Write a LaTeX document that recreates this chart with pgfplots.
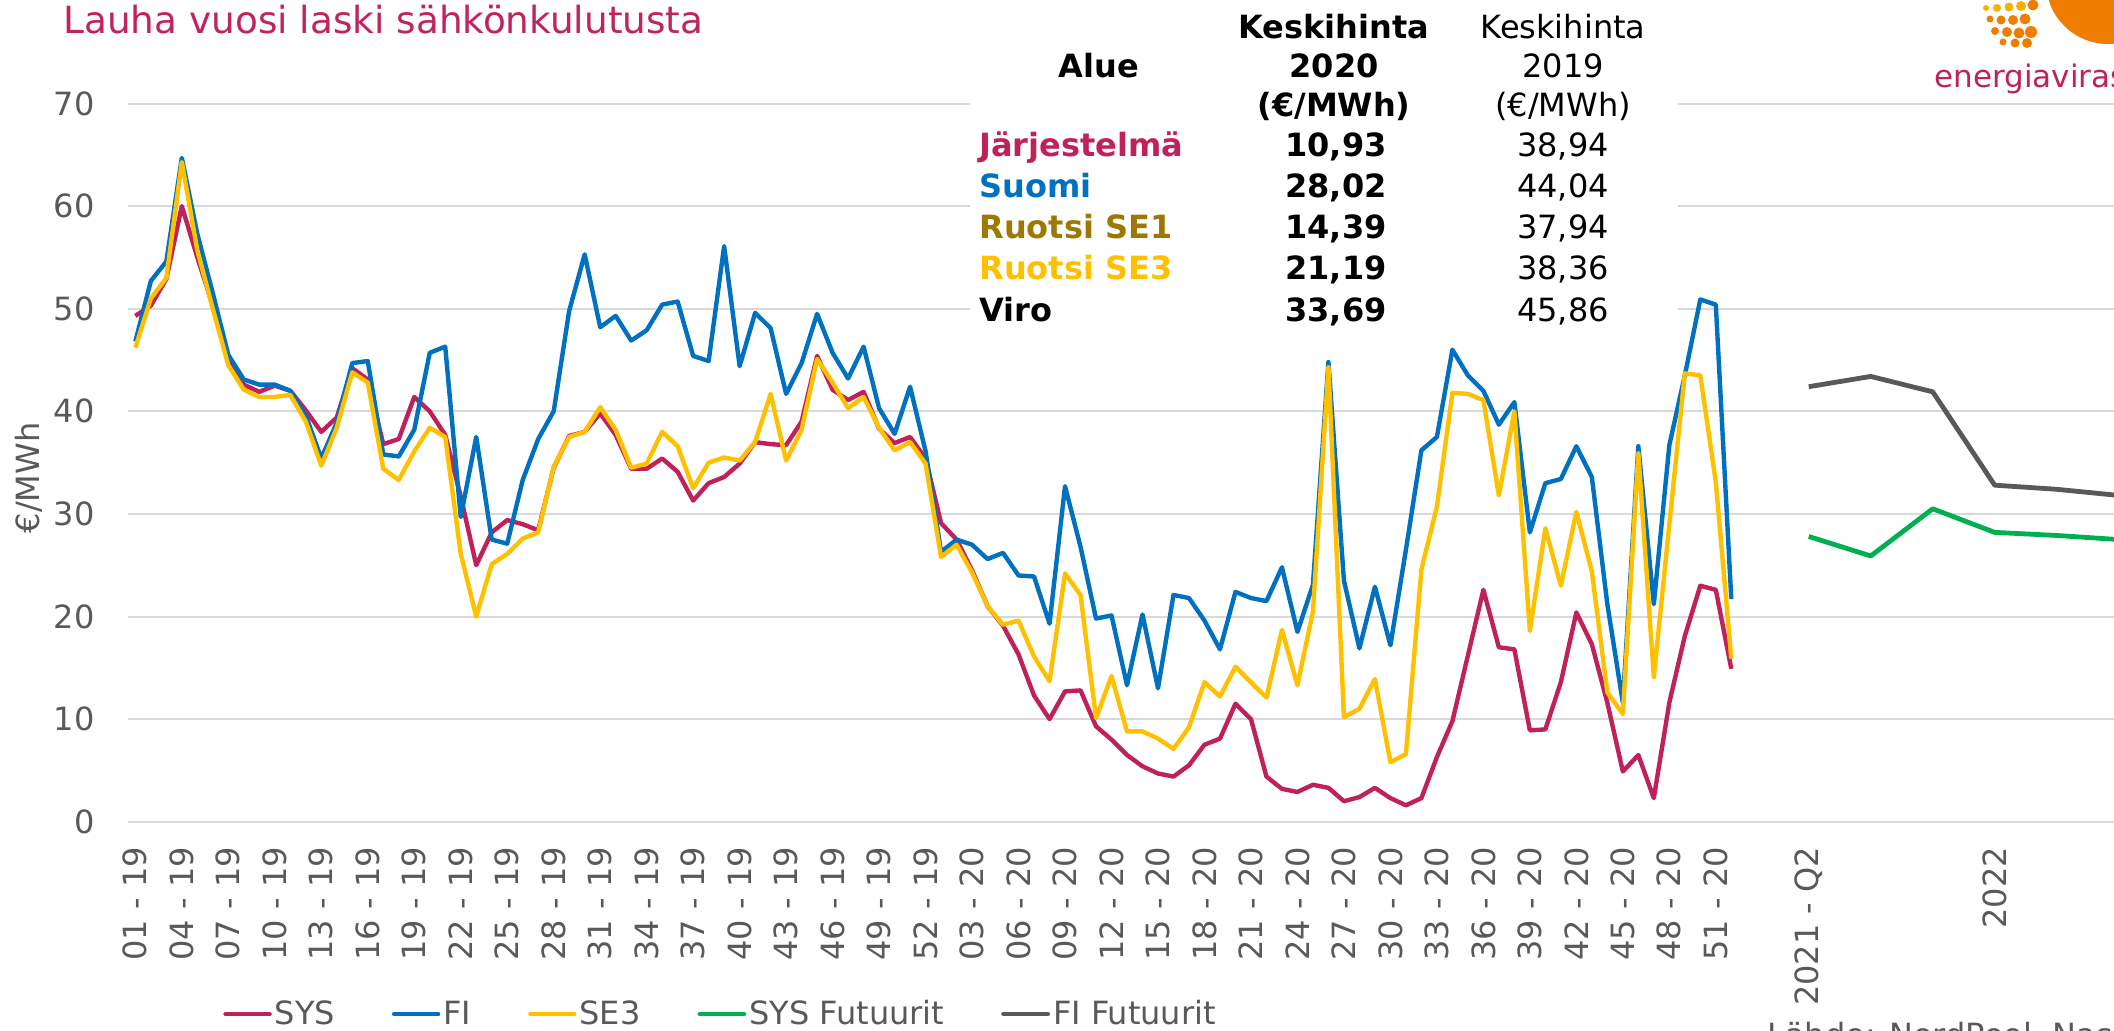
\documentclass[border=0pt]{standalone}
\usepackage{fontspec}
\setmainfont{DejaVu Sans}
\usepackage{pgfplots}
\pgfplotsset{compat=1.18}
\definecolor{sys}{RGB}{193,33,91}
\definecolor{fi}{RGB}{0,112,192}
\definecolor{se3}{RGB}{255,192,0}
\definecolor{se1}{RGB}{158,120,0}
\definecolor{sysf}{RGB}{0,176,80}
\definecolor{fif}{RGB}{89,89,89}
\definecolor{txtgray}{RGB}{89,89,89}
\definecolor{gridgray}{RGB}{217,217,217}
\definecolor{titlec}{RGB}{192,36,92}
\definecolor{logoor}{RGB}{238,125,0}
\definecolor{logoye}{RGB}{248,176,0}
\definecolor{logored}{RGB}{226,80,30}
\newcommand{\fs}{\fontsize{16}{19}\selectfont}
\begin{document}
\begin{tikzpicture}
\clip (0,0) rectangle (1057pt,515pt);
\fill[white] (0,0) rectangle (1057pt,515pt);
\begin{axis}[
  at={(63.8pt,104.15pt)}, anchor=south west,
  scale only axis, width=993.2pt, height=359.1pt,
  xmin=-0.5, xmax=127.7, ymin=0, ymax=70,
  ytick={0,10,...,70},
  xtick={0,3,...,102,108,120},
  xticklabels={01 - 19,04 - 19,07 - 19,10 - 19,13 - 19,16 - 19,19 - 19,22 - 19,25 - 19,28 - 19,31 - 19,34 - 19,37 - 19,40 - 19,43 - 19,46 - 19,49 - 19,52 - 19,03 - 20,06 - 20,09 - 20,12 - 20,15 - 20,18 - 20,21 - 20,24 - 20,27 - 20,30 - 20,33 - 20,36 - 20,39 - 20,42 - 20,45 - 20,48 - 20,51 - 20,2021 - Q2,2022},
  axis line style={draw=none},
  major tick length=0pt,
  ymajorgrids, grid style={gridgray, line width=1pt},
  tick label style={font=\fs, text=txtgray},
  /pgf/number format/assume math mode=true,
  yticklabel style={anchor=east, inner sep=0pt},
  yticklabel shift=16.3pt,
  xticklabel style={rotate=90, anchor=east, inner sep=0pt},
  xticklabel shift=12.5pt,
  ylabel={€/MWh},
  every axis y label/.style={at={(axis description cs:-0.0496,0.4786)}, rotate=90, anchor=center, font=\fs, text=txtgray},
  legend style={at={(axis description cs:0.048,-0.2678)}, anchor=west, draw=none, fill=none, font=\fs, text=txtgray, legend columns=5, inner sep=0pt, nodes={inner sep=1.5pt}, /tikz/every even column/.append style={column sep=27pt}},
  legend image code/.code={\draw[#1, line cap=round] (1pt,0pt) -- (23pt,0pt);},
  clip=true,
]
\addplot[sys, line width=2.2pt, line join=round] coordinates {(0,49.3)(1,50.3)(2,52.9)(3,60.0)(4,55.0)(5,50.3)(6,44.9)(7,42.6)(8,41.9)(9,42.5)(10,42.0)(11,40.1)(12,38.0)(13,39.4)(14,44.2)(15,43.1)(16,36.8)(17,37.3)(18,41.4)(19,40.0)(20,37.7)(21,31.7)(22,25.0)(23,28.2)(24,29.4)(25,29.0)(26,28.4)(27,34.5)(28,37.6)(29,38.0)(30,39.8)(31,37.7)(32,34.4)(33,34.4)(34,35.4)(35,34.1)(36,31.3)(37,33.0)(38,33.6)(39,34.9)(40,37.0)(41,36.8)(42,36.7)(43,39.0)(44,45.4)(45,42.1)(46,41.1)(47,41.9)(48,38.3)(49,36.9)(50,37.5)(51,35.4)(52,29.1)(53,27.5)(54,24.5)(55,21.0)(56,19.1)(57,16.3)(58,12.3)(59,10.0)(60,12.7)(61,12.8)(62,9.3)(63,8.0)(64,6.5)(65,5.4)(66,4.7)(67,4.4)(68,5.5)(69,7.5)(70,8.1)(71,11.5)(72,10.0)(73,4.4)(74,3.2)(75,2.9)(76,3.6)(77,3.3)(78,2.0)(79,2.4)(80,3.3)(81,2.3)(82,1.6)(83,2.3)(84,6.3)(85,9.8)(86,16.2)(87,22.6)(88,17.0)(89,16.8)(90,8.9)(91,9.0)(92,13.6)(93,20.4)(94,17.3)(95,11.6)(96,4.9)(97,6.5)(98,2.3)(99,11.6)(100,18.1)(101,23.0)(102,22.6)(103,14.9)};
\addlegendentry{SYS}
\addplot[fi, line width=2.2pt, line join=round] coordinates {(0,46.8)(1,52.7)(2,54.6)(3,64.7)(4,57.3)(5,51.5)(6,45.5)(7,43.1)(8,42.6)(9,42.6)(10,42.0)(11,39.6)(12,35.4)(13,38.9)(14,44.7)(15,44.9)(16,35.8)(17,35.6)(18,38.2)(19,45.7)(20,46.3)(21,29.7)(22,37.5)(23,27.5)(24,27.1)(25,33.3)(26,37.3)(27,40.0)(28,49.8)(29,55.3)(30,48.2)(31,49.3)(32,46.9)(33,47.9)(34,50.4)(35,50.7)(36,45.4)(37,44.9)(38,56.1)(39,44.4)(40,49.6)(41,48.1)(42,41.7)(43,44.7)(44,49.5)(45,45.7)(46,43.2)(47,46.3)(48,40.3)(49,37.8)(50,42.4)(51,36.1)(52,26.3)(53,27.5)(54,27.0)(55,25.6)(56,26.2)(57,24.0)(58,23.9)(59,19.3)(60,32.7)(61,26.8)(62,19.8)(63,20.1)(64,13.3)(65,20.2)(66,13.0)(67,22.1)(68,21.8)(69,19.6)(70,16.8)(71,22.4)(72,21.8)(73,21.5)(74,24.8)(75,18.5)(76,23.1)(77,44.8)(78,23.5)(79,16.9)(80,22.9)(81,17.2)(82,26.5)(83,36.2)(84,37.5)(85,46.0)(86,43.5)(87,42.0)(88,38.7)(89,40.9)(90,28.2)(91,33.0)(92,33.4)(93,36.6)(94,33.6)(95,21.2)(96,11.6)(97,36.6)(98,21.2)(99,36.7)(100,43.5)(101,50.9)(102,50.4)(103,21.7)};
\addlegendentry{FI}
\addplot[se3, line width=2.2pt, line join=round] coordinates {(0,46.2)(1,51.0)(2,53.0)(3,64.3)(4,55.7)(5,50.0)(6,44.5)(7,42.1)(8,41.4)(9,41.4)(10,41.6)(11,39.0)(12,34.7)(13,38.4)(14,43.8)(15,42.8)(16,34.4)(17,33.3)(18,36.1)(19,38.4)(20,37.5)(21,26.1)(22,20.0)(23,25.1)(24,26.1)(25,27.6)(26,28.2)(27,34.6)(28,37.5)(29,38.0)(30,40.4)(31,38.2)(32,34.5)(33,34.9)(34,38.0)(35,36.6)(36,32.5)(37,35.0)(38,35.5)(39,35.2)(40,37.0)(41,41.7)(42,35.2)(43,38.2)(44,45.1)(45,42.8)(46,40.3)(47,41.4)(48,38.4)(49,36.2)(50,37.0)(51,34.9)(52,25.8)(53,27.0)(54,24.3)(55,21.0)(56,19.2)(57,19.6)(58,16.1)(59,13.7)(60,24.2)(61,22.1)(62,10.1)(63,14.2)(64,8.8)(65,8.8)(66,8.1)(67,7.1)(68,9.2)(69,13.6)(70,12.2)(71,15.1)(72,13.6)(73,12.1)(74,18.7)(75,13.3)(76,20.5)(77,44.3)(78,10.2)(79,11.0)(80,13.9)(81,5.8)(82,6.6)(83,24.6)(84,30.7)(85,41.8)(86,41.7)(87,41.1)(88,31.8)(89,40.0)(90,18.6)(91,28.6)(92,23.0)(93,30.2)(94,24.4)(95,12.6)(96,10.5)(97,35.9)(98,14.1)(99,29.0)(100,43.7)(101,43.5)(102,33.1)(103,15.9)};
\addlegendentry{SE3}
\addplot[sysf, line width=2.4pt, line join=round] coordinates {(108,27.8)(112,25.9)(116,30.5)(120,28.2)(124,27.9)(128,27.5)};
\addlegendentry{SYS Futuurit}
\addplot[fif, line width=2.4pt, line join=round] coordinates {(108,42.4)(112,43.4)(116,41.9)(120,32.8)(124,32.4)(128,31.8)};
\addlegendentry{FI Futuurit}
\end{axis}
\begin{scope}[yshift=515pt, x=0.5pt, y=-0.5pt]
  % title
  \node[anchor=base west, inner sep=0pt, text=titlec, font=\fontsize{18.7}{22}\selectfont] at (63,33.3) {Lauha vuosi laski sähkönkulutusta};
  % table background
  \fill[white] (970,-5) rectangle (1678,335);
  \begin{scope}[every node/.style={inner sep=0pt, font=\fs}]
    \node[anchor=base, font=\fs\bfseries] at (1099,77.3) {Alue};
    \node[anchor=base, font=\fs\bfseries] at (1334,38.3) {Keskihinta};
    \node[anchor=base, font=\fs\bfseries] at (1334,77.3) {2020};
    \node[anchor=base, font=\fs\bfseries] at (1334,116.5) {(€/MWh)};
    \node[anchor=base] at (1563,38.3) {Keskihinta};
    \node[anchor=base] at (1563,77.3) {2019};
    \node[anchor=base] at (1563,116.5) {(€/MWh)};
    \node[anchor=base west, font=\fs\bfseries, text=sys] at (979,157) {Järjestelmä};
    \node[anchor=base west, font=\fs\bfseries, text=fi] at (979,198) {Suomi};
    \node[anchor=base west, font=\fs\bfseries, text=se1] at (979,239) {Ruotsi SE1};
    \node[anchor=base west, font=\fs\bfseries, text=se3] at (979,280) {Ruotsi SE3};
    \node[anchor=base west, font=\fs\bfseries] at (979,322) {Viro};
    \node[anchor=base, font=\fs\bfseries] at (1336,157) {10,93};
    \node[anchor=base, font=\fs\bfseries] at (1336,198) {28,02};
    \node[anchor=base, font=\fs\bfseries] at (1336,239) {14,39};
    \node[anchor=base, font=\fs\bfseries] at (1336,280) {21,19};
    \node[anchor=base, font=\fs\bfseries] at (1336,322) {33,69};
    \node[anchor=base] at (1563,157) {38,94};
    \node[anchor=base] at (1563,198) {44,04};
    \node[anchor=base] at (1563,239) {37,94};
    \node[anchor=base] at (1563,280) {38,36};
    \node[anchor=base] at (1563,322) {45,86};
  \end{scope}
  % logo
  \fill[logoor] (2108,-18) circle (62);
  \foreach \a in {200,225,250,275,300,325} {\draw[white, line width=1.2pt] (2108,-18) -- ++(\a:70);}
  \fill[logored] (2108,-18) -- ++(300:62) arc (300:340:62) -- cycle;
  \foreach \xx/\yy/\r/\c in {1986/8/3/logoye,1997/8/4/logoye,2009/7/4.5/logoye,2021/6/5/logoye,2033/5/5.5/logoor,1990/19/3.5/logoor,2001/20/4.5/logoor,2013/20/5/logoor,2025/19/5.5/logoor,1995/31/4/logoor,2007/32/5/logoor,2019/33/5.5/logoor,2031/32/6/logoor,2003/42/3.5/logoor,2015/43/4.5/logoor,2027/43/5/logoor}
    {\fill[\c] (\xx,\yy) circle (\r);}
  \node[anchor=base west, inner sep=0pt, text=sys, font=\fontsize{15.5}{18}\selectfont] at (1934,88) {energiavirasto};
  % source
  \node[anchor=base west, inner sep=0pt, text=txtgray, font=\fs] at (1767,1046) {Lähde: NordPool, Nasdaq};
\end{scope}
\end{tikzpicture}
\end{document}
